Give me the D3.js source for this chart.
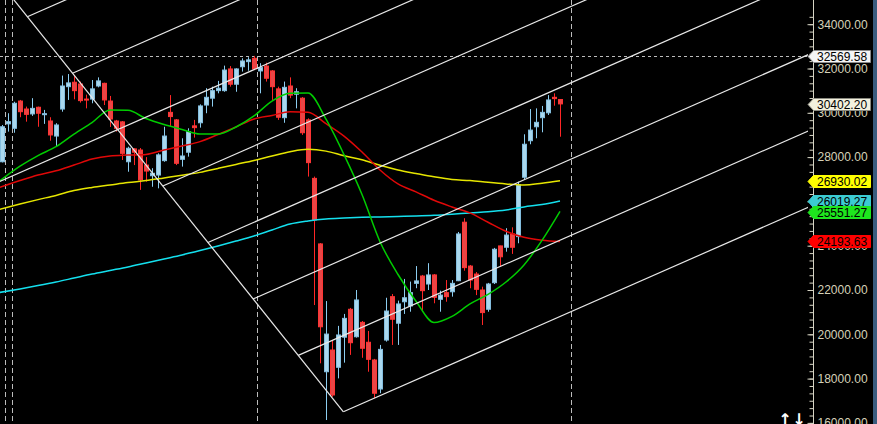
<!DOCTYPE html>
<html>
<head>
<meta charset="utf-8">
<script src="https://cdn.jsdelivr.net/npm/d3@7"></script>
<style>
  html, body { margin:0; padding:0; background:#000; overflow:hidden; }
  svg { display:block; }
</style>
</head>
<body>
<div id="chartWrapper"></div>
<script>
//candles: [open, high, low, close]
const ohlc = [
  [27790,29450,27760,29370],[29500,29980,29150,29600],[29300,30500,29100,30430],[30530,30580,29800,30050],
  [30170,30280,29600,29930],[29950,30660,29860,30200],[30250,30280,29370,29980],[29920,30130,29500,29960],
  [29630,29800,28740,29000],[28950,29530,28500,29450],[30170,31680,30050,31210],[31180,31750,30580,31350],
  [31380,31710,30610,31000],[31300,31410,30460,30550],[30620,30820,30200,30590],[30620,31480,30430,31080],
  [31210,31600,31150,31440],[31330,31360,30350,30580],[30530,30760,29360,29720],[29630,29680,29150,29300],
  [29590,29630,27870,28170],[27790,28470,27340,28400],[28370,28410,27640,28220],[28320,28410,26520,26970],
  [27640,28000,26890,27370],[27160,27500,26660,27270],[27190,28170,26590,28100],[27840,29370,27790,28950],
  [30020,30800,29370,29830],[29680,29720,27640,27720],[27900,28850,27570,28050],[28220,29300,28020,29150],
  [29410,29680,28880,29330],[29550,30380,29330,30310],[30350,31110,29980,30700],[30660,31180,30280,31000],
  [31000,31440,30880,31110],[31000,32130,30950,31930],[31980,32110,31180,31290],[31290,32010,30950,31980],
  [32080,32460,31860,32340],[32310,32510,31900,32390],[32460,32569.58,31930,31980],[31890,32240,30880,32040],
  [32110,32260,31410,31560],[31890,31930,30580,31180],[31080,31180,29680,29800],[29780,31410,29550,31150],
  [31210,31600,30660,30800],[30840,31110,30200,30950],[30660,30710,29000,29100],[29680,29750,27120,27750],
  [27040,27120,21320,25160],[24080,24120,18690,20340],[18310,21500,16130,20010],[19290,19740,17180,17260],
  [18510,20380,18010,19970],[19870,20920,18720,20720],[21130,21190,19070,19620],[19890,22000,19850,21550],
  [20540,20600,18940,19370],[19640,20150,18310,18870],[18840,18890,17110,17340],[17530,19520,17340,19320],
  [19740,21650,19670,21050],[21700,21820,19520,20680],[20500,21520,19520,21370],[21470,22500,20920,21650],
  [21280,22380,21020,21880],[22300,23080,22080,22410],[22630,22680,21020,21970],[22270,23210,22000,22680],
  [22680,22720,21400,21670],[21580,21970,21020,21770],[21880,22450,21470,21700],[21920,22450,21700,22300],
  [22420,24620,22400,24530],[25060,25240,22870,23010],[23080,23130,22080,22450],[22720,22810,21770,22030],
  [22000,22150,20420,20980],[21130,22320,21020,22270],[22330,23900,22270,23840],[23990,24000,23050,23500],
  [23930,24790,23730,24480],[24530,24830,23630,23930],[24410,26890,24110,26740],[27090,29030,27010,28580],
  [28740,30170,28580,29220],[29370,30200,28850,29570],[29780,30310,29120,30020],[30000,30800,29900,30580],
  [30700,30880,30320,30640],[30600,30600,28920,30402.20]
];

//moving averages, read every 3rd candle
const maIdx = [-0.4,3,6,9,12,15,18,21,24,27,30,33,36,39,42,45,48,51,54,57,60,63,66,69,72,75,78,81,84,87,90,93];
const maGreen = [26920,27590,28070,28470,29040,29560,30130,30110,29740,29470,29250,29040,29040,29360,29860,30530,
  30880,30890,29710,28110,26310,24180,22700,21490,20530,20810,21370,21800,22360,23130,24240,25551.27];
const maRed = [26630,26940,27190,27380,27640,27910,28050,28090,28120,28320,28500,28700,29020,29360,29720,29880,
  30050,30020,29510,28950,28230,27420,26790,26430,26050,25750,25480,25060,24650,24380,24250,24193.63];
const maYellow = [25640,25880,26080,26270,26490,26630,26740,26850,26940,27060,27180,27310,27490,27670,27850,28050,
  28240,28350,28270,28060,27880,27630,27420,27260,27110,26990,26940,26860,26790,26740,26820,26930.02];
const maCyan = [21890,22050,22200,22360,22540,22720,22880,23040,23220,23400,23580,23780,23990,24210,24440,24710,
  24980,25120,25210,25250,25280,25300,25320,25340,25370,25420,25480,25530,25610,25750,25860,26019.27];

const priceTicks = [16000,18000,20000,22000,24000,26000,28000,30000,32000,34000];
const separators = [0.55, 1.62, 42.55, 94.8];   //candle index of the dashed period lines

//channel drawing: [candle index, price]
const forkTop = [0, 35770];
const forkPivot = [56.9, 16500];
const forkStep = [-7.525, 2548];   //shift between parallel lines along the handle
const forkSlope = 119.2;           //price per candle
const forkLines = 8;
const forkLongLine = 5;            //this one also runs to the left edge

const W = 877, H = 424, plotRight = 808, axisX = 813;

let x = d3.scaleLinear().domain([0, 93]).range([2, 560]);
let y = d3.scaleLinear().domain([16000, 34000]).range([422.9, 24.2]);

let svg = d3.select('#chartWrapper').append('svg')
  .attr('width', W).attr('height', H)
  .style('background', '#000')
  .style('font-family', '"Liberation Sans", Arial, sans-serif');

svg.append('defs').append('clipPath').attr('id', 'plotClip')
  .append('rect').attr('x', 0).attr('y', 0).attr('width', plotRight).attr('height', H);

let plot = svg.append('g').attr('clip-path', 'url(#plotClip)');

//period separators
plot.selectAll('.sep').data(separators).enter().append('line')
  .attr('x1', d => Math.round(x(d)) + 0.5).attr('x2', d => Math.round(x(d)) + 0.5)
  .attr('y1', 0).attr('y2', H)
  .attr('stroke', '#bcbcbc').attr('stroke-dasharray', '5,3');

//highest high line
const hiVal = d3.max(ohlc, d => d[1]);
plot.append('line')
  .attr('x1', 0).attr('x2', plotRight)
  .attr('y1', Math.round(y(hiVal)) + 0.5).attr('y2', Math.round(y(hiVal)) + 0.5)
  .attr('stroke', '#bcbcbc').attr('stroke-dasharray', '3,3');

//candles
let candles = plot.selectAll('.candle').data(ohlc).enter().append('g').attr('class', 'candle');
candles.append('line')
  .attr('x1', (d, i) => Math.round(x(i)) + 0.5).attr('x2', (d, i) => Math.round(x(i)) + 0.5)
  .attr('y1', d => y(d[1])).attr('y2', d => y(d[2]))
  .attr('stroke', d => d[3] >= d[0] ? '#8ccdf0' : '#ff2626');
candles.append('rect')
  .attr('x', (d, i) => Math.round(x(i)) - 1.5)
  .attr('width', 4)
  .attr('y', d => y(Math.max(d[0], d[3])))
  .attr('height', d => Math.max(1, Math.abs(y(d[0]) - y(d[3]))))
  .attr('fill', d => d[3] >= d[0] ? '#aad8ee' : '#e84646')
  .attr('stroke', d => d[3] >= d[0] ? '#84bedf' : '#ff3434');

//moving averages
let maLine = d3.line()
  .curve(d3.curveMonotoneX)
  .x(d => x(d[0]))
  .y(d => y(d[1]));
const maSeries = [
  {vals: maCyan, color: '#14e0ee'},
  {vals: maYellow, color: '#e6e600'},
  {vals: maRed, color: '#e00808'},
  {vals: maGreen, color: '#00cc00'}
];
plot.selectAll('.ma').data(maSeries).enter().append('path')
  .attr('class', 'ma')
  .attr('d', s => maLine(maIdx.map((k, j) => [k, s.vals[j]])))
  .attr('fill', 'none')
  .attr('stroke', s => s.color)
  .attr('stroke-width', 1.5);

//channel lines
plot.append('line')
  .attr('x1', x(forkTop[0])).attr('y1', y(forkTop[1]))
  .attr('x2', x(forkPivot[0])).attr('y2', y(forkPivot[1]))
  .attr('stroke', '#e8e8e8').attr('stroke-width', 1.2);
let forks = d3.range(forkLines).map(function(k){
  let i0 = forkPivot[0] + k * forkStep[0];
  let p0 = forkPivot[1] + k * forkStep[1];
  let iStart = (k === forkLongLine) ? -2 : i0;
  let iEnd = 140;
  return [[iStart, p0 + (iStart - i0) * forkSlope], [iEnd, p0 + (iEnd - i0) * forkSlope]];
});
plot.selectAll('.fork').data(forks).enter().append('line')
  .attr('x1', d => x(d[0][0])).attr('y1', d => y(d[0][1]))
  .attr('x2', d => x(d[1][0])).attr('y2', d => y(d[1][1]))
  .attr('stroke', '#e8e8e8').attr('stroke-width', 1.2);

//price axis
svg.append('line')
  .attr('x1', axisX + 0.5).attr('x2', axisX + 0.5).attr('y1', 0).attr('y2', H)
  .attr('stroke', '#d6d4c4');

let minorTicks = d3.range(16000, 34500, 2000 / 6);
let minorAxis = svg.append('g')
  .attr('transform', 'translate(' + (axisX + 0.5) + ',0)')
  .call(d3.axisRight(y).tickValues(minorTicks).tickSizeInner(-4).tickSizeOuter(0).tickFormat(''));
minorAxis.select('.domain').remove();
minorAxis.selectAll('line').attr('stroke', '#d6d4c4');

let majorAxis = svg.append('g')
  .attr('transform', 'translate(' + (axisX + 0.5) + ',0)')
  .call(d3.axisRight(y).tickValues(priceTicks).tickSizeInner(-6).tickSizeOuter(0).tickPadding(4)
    .tickFormat(d3.format('.2f')));
majorAxis.select('.domain').remove();
majorAxis.selectAll('line').attr('stroke', '#d6d4c4');
majorAxis.selectAll('text')
  .attr('fill', '#d6d2b8')
  .style('font-size', '12px')
  .style('font-family', '"Liberation Sans", Arial, sans-serif');

//price labels at the axis
const last = ohlc[ohlc.length - 1];
const tags = [
  {val: hiVal, fill: '#f4f4f4', edge: '#8a8a8a'},
  {val: last[3], fill: '#f3f1de', edge: '#8a8a80'},
  {val: maYellow[maYellow.length - 1], fill: '#ffff00', edge: '#ffff00'},
  {val: maCyan[maCyan.length - 1], fill: '#3ccbd2', edge: '#3ccbd2'},
  {val: maGreen[maGreen.length - 1], fill: '#1ee61e', edge: '#1ee61e'},
  {val: maRed[maRed.length - 1], fill: '#ff0000', edge: '#ff0000'}
];
let tagG = svg.selectAll('.tag').data(tags).enter().append('g').attr('class', 'tag')
  .attr('transform', d => 'translate(0,' + (Math.round(y(d.val)) + (d.val === tags[4].val ? 1 : 0)) + ')');
tagG.append('path')
  .attr('d', 'M808,0.5 L813.5,-5.5 L870.5,-5.5 L870.5,6.5 L813.5,6.5 Z')
  .attr('fill', d => d.fill)
  .attr('stroke', d => d.edge);
tagG.append('text')
  .attr('x', 817).attr('y', 0).attr('dy', '0.4em')
  .attr('fill', '#000')
  .style('font-size', '12px')
  .text(d => d3.format('.2f')(d.val));

//right edge strip
svg.append('rect').attr('x', 873).attr('y', 0).attr('width', 4).attr('height', H).attr('fill', '#3a5c7e');

//scroll arrows
svg.append('text').attr('x', 785).attr('y', 425).attr('text-anchor', 'middle')
  .attr('fill', '#fff').style('font-size', '16px').style('font-weight', 'bold')
  .style('font-family', '"DejaVu Sans", sans-serif').text('\u2191');
svg.append('text').attr('x', 799).attr('y', 425).attr('text-anchor', 'middle')
  .attr('fill', '#fff').style('font-size', '16px').style('font-weight', 'bold')
  .style('font-family', '"DejaVu Sans", sans-serif').text('\u2193');
</script>
</body>
</html>
